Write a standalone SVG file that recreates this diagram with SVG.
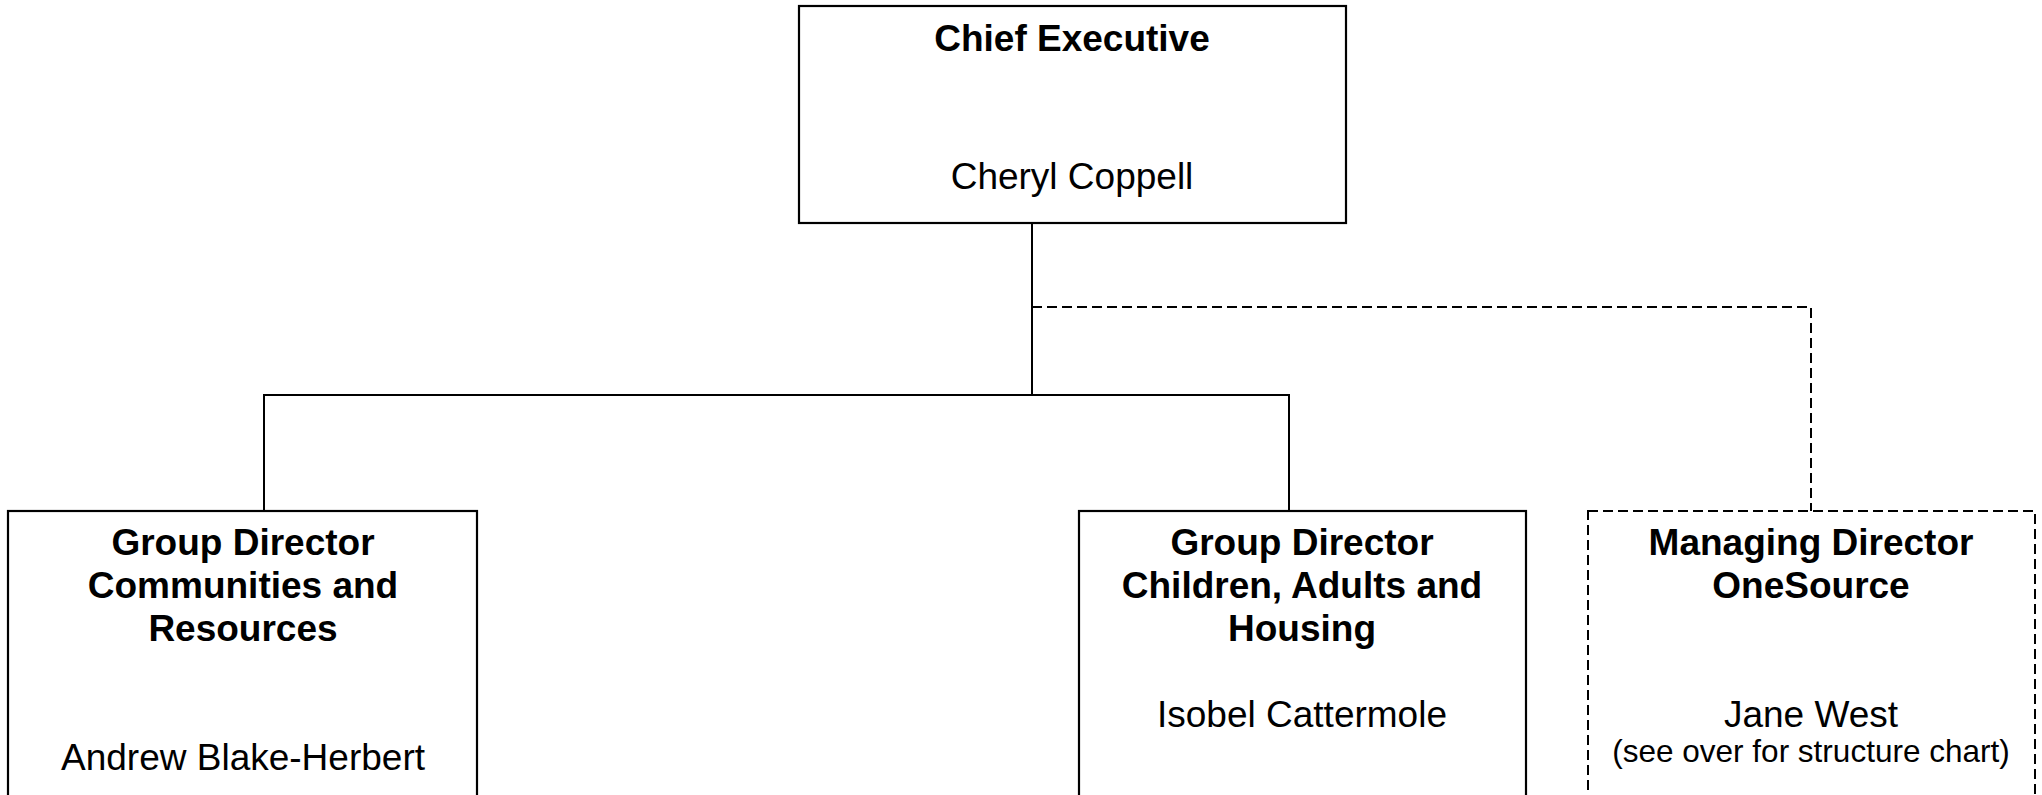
<svg xmlns="http://www.w3.org/2000/svg" width="2042" height="795" viewBox="0 0 2042 795">
<style>
  .box { fill: #fff; stroke: #000; stroke-width: 2.2; }
  .dbox { fill: #fff; stroke: #000; stroke-width: 2; stroke-dasharray: 10 5; }
  .line { fill: none; stroke: #000; stroke-width: 2; }
  .dline { fill: none; stroke: #000; stroke-width: 2; stroke-dasharray: 10 5; }
  text { font-family: "Liberation Sans", Arial, sans-serif; font-size: 37px; text-anchor: middle; fill: #000; }
  .b { font-weight: bold; }
  .s { font-size: 31.5px; }
</style>
<rect width="2042" height="795" fill="#fff"/>
<g id="connectors">
  <path class="line" d="M1032 223 V395"/>
  <path class="line" d="M264 511 V395 H1289 V511"/>
  <path class="dline" d="M1032 307 H1811 V511"/>
</g>
<g id="chief">
  <rect class="box" x="799" y="6" width="547" height="217"/>
  <text class="b" x="1072" y="51">Chief Executive</text>
  <text x="1072" y="189">Cheryl Coppell</text>
</g>
<g id="gd-communities">
  <rect class="box" x="8" y="511" width="469" height="300"/>
  <text class="b" x="243" y="555">Group Director</text>
  <text class="b" x="243" y="598">Communities and</text>
  <text class="b" x="243" y="641">Resources</text>
  <text x="243" y="770">Andrew Blake-Herbert</text>
</g>
<g id="gd-children">
  <rect class="box" x="1079" y="511" width="447" height="300"/>
  <text class="b" x="1302" y="555">Group Director</text>
  <text class="b" x="1302" y="598">Children, Adults and</text>
  <text class="b" x="1302" y="641">Housing</text>
  <text x="1302" y="727">Isobel Cattermole</text>
</g>
<g id="md-onesource">
  <rect class="dbox" x="1588" y="511" width="447" height="300"/>
  <text class="b" x="1811" y="555">Managing Director</text>
  <text class="b" x="1811" y="598">OneSource</text>
  <text x="1811" y="727">Jane West</text>
  <text class="s" x="1811" y="762">(see over for structure chart)</text>
</g>
</svg>
